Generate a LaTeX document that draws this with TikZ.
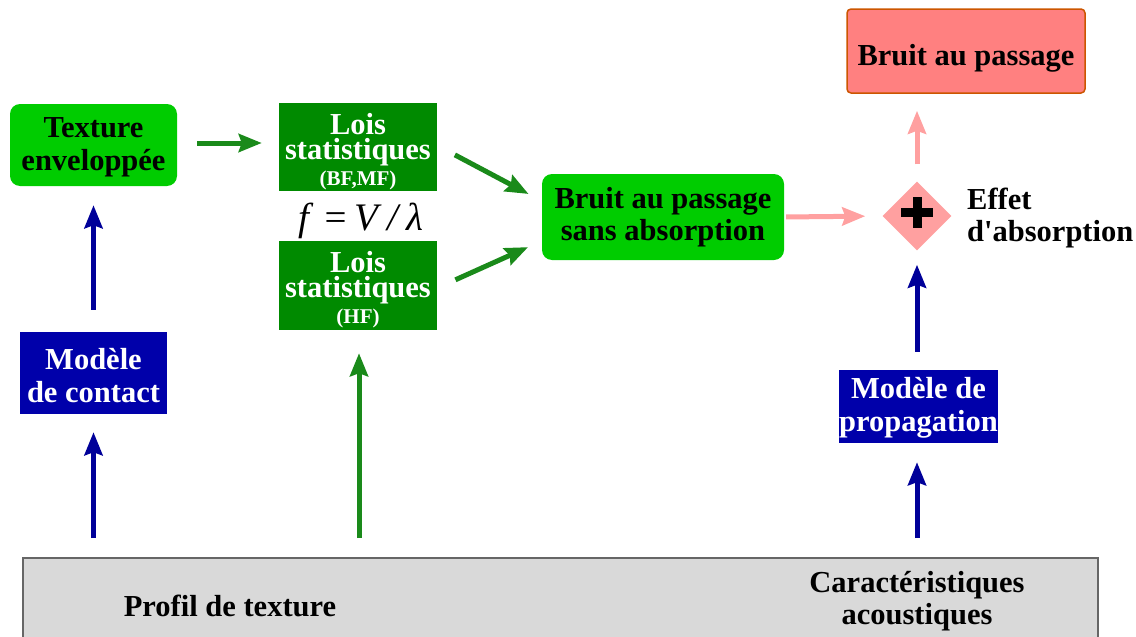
\documentclass[tikz,border=0pt]{standalone}
\usepackage{fontspec}
\setmainfont{Liberation Serif}
\newfontfamily\rawserif{Liberation Serif}
\usetikzlibrary{shapes.geometric,arrows.meta}
\definecolor{navy}{HTML}{000099}
\definecolor{boxblue}{HTML}{0000AA}
\definecolor{lgreen}{HTML}{00CC00}
\definecolor{dgreen}{HTML}{008A00}
\definecolor{agreen}{HTML}{1A8A1A}
\definecolor{pinkarrow}{HTML}{FFA0A0}
\definecolor{pinkbox}{HTML}{FF8080}
\definecolor{pinkborder}{HTML}{CC5500}
\definecolor{graybox}{HTML}{D9D9D9}
\tikzset{
  txt/.style={font=\fontsize{30.5}{32.5}\selectfont\bfseries, align=center, inner sep=0pt},
  tight/.style={font=\fontsize{30.5}{25}\selectfont\bfseries},
  lightbox/.style={txt, fill=lgreen, rounded corners=10pt, text=black},
  darkbox/.style={txt, tight, fill=dgreen, text=white},
  bluebox/.style={txt, fill=boxblue, text=white},
  arr/.style={line width=5pt, -{Stealth[length=23pt,width=18pt,inset=3pt]}},
  bluearr/.style={arr, draw=navy},
  greenarr/.style={arr, draw=agreen},
  pinkarr/.style={arr, draw=pinkarrow},
}
\begin{document}
\begin{tikzpicture}[x=1pt,y=-1pt]
\useasboundingbox (0,0) rectangle (1136,637);
\begin{scope}
\clip (0,0) rectangle (1136,637);
\node[txt, draw=black!60, line width=1.5pt, fill=graybox, minimum width=1075pt, minimum height=100pt, anchor=north west] (bottom) at (22,557) {};
\end{scope}
\node[txt] (profil) at (230,606) {Profil de texture};
\node[txt] (caract) at (917,601) {Caractéristiques\\acoustiques};

\node[lightbox, minimum width=167pt, minimum height=82pt] (texture) at (93.5,145) {\rule{0pt}{24pt}Texture\\enveloppée};
\node[darkbox, minimum width=158pt, minimum height=88pt] (lois1) at (358,147) {\rule{0pt}{30pt}Lois\\statistiques\\[1pt]{\fontsize{21}{22}\selectfont (BF,MF)}};
\node[inner sep=0pt, anchor=base, font=\fontsize{39}{39}\selectfont\itshape] (formula) at (361,230) {f\hspace{14pt}=\hspace{5pt}V\hspace{9pt}/\hspace{9pt}λ};
\node[darkbox, minimum width=158pt, minimum height=89pt] (lois2) at (358,285.5) {\rule{0pt}{30pt}Lois\\statistiques\\[1pt]{\fontsize{21}{22}\selectfont (HF)}};
\node[lightbox, minimum width=242pt, minimum height=86pt] (sans) at (663,217) {Bruit au passage\\sans absorption};
\node[txt, fill=pinkbox, draw=pinkborder, line width=1.5pt, rounded corners=4pt, minimum width=238pt, minimum height=84pt, text height=28pt, text depth=0pt] (top) at (966,51) {Bruit au passage};
\node[diamond, fill=pinkarrow, minimum width=69pt, minimum height=69pt, inner sep=0pt,
  path picture={\draw[black, line width=9pt] ([xshift=-16pt,yshift=4pt]path picture bounding box.center) -- ([xshift=16pt,yshift=4pt]path picture bounding box.center);
                \draw[black, line width=9pt] ([yshift=-11.5pt]path picture bounding box.center) -- ([yshift=19.5pt]path picture bounding box.center);}] (plus) at (917,216) {};
\node[txt, align=left, anchor=west] (effet) at (967,218) {Effet\\d{\rawserif '}absorption};
\node[bluebox, minimum width=147pt, minimum height=82pt] (contact) at (93.5,373) {\rule{0pt}{26pt}Modèle\\de contact};
\node[bluebox, minimum width=159pt, minimum height=73pt] (prop) at (918.5,406.5) {\rule{0pt}{24pt}Modèle de\\propagation};

\draw[bluearr, shorten <=19pt, shorten >=18pt] (contact |- bottom.north) -- (contact.south);
\draw[bluearr, shorten <=22pt, shorten >=19pt] (contact.north) -- (texture.south);
\draw[greenarr, shorten <=19pt, shorten >=23pt] ([xshift=1pt]lois2 |- bottom.north) -- ([xshift=1pt]lois2.south);
\draw[bluearr, shorten <=19pt, shorten >=19pt] ([xshift=-1.5pt]prop |- bottom.north) -- ([xshift=-1.5pt]prop.south);
\draw[bluearr, shorten <=18pt, shorten >=14pt] (plus |- prop.north) -- (plus.south);
\draw[pinkarr, shorten <=17pt, shorten >=17pt] (plus.north) -- (plus |- top.south);
\draw[pinkarr, shorten <=2pt, shorten >=17pt] (sans.east) -- (plus.west);
\draw[greenarr, shorten <=20pt, shorten >=17pt] (texture.east |- 0,143) -- (lois1.west |- 0,143);
\draw[greenarr, shorten <=20pt, shorten >=15pt] ([yshift=1.5pt]lois1.east) -- ([yshift=16pt]sans.west);
\draw[greenarr, shorten <=20pt, shorten >=15pt] ([yshift=-2.5pt]lois2.east) -- ([yshift=-24pt]sans.west);
\end{tikzpicture}
\end{document}
